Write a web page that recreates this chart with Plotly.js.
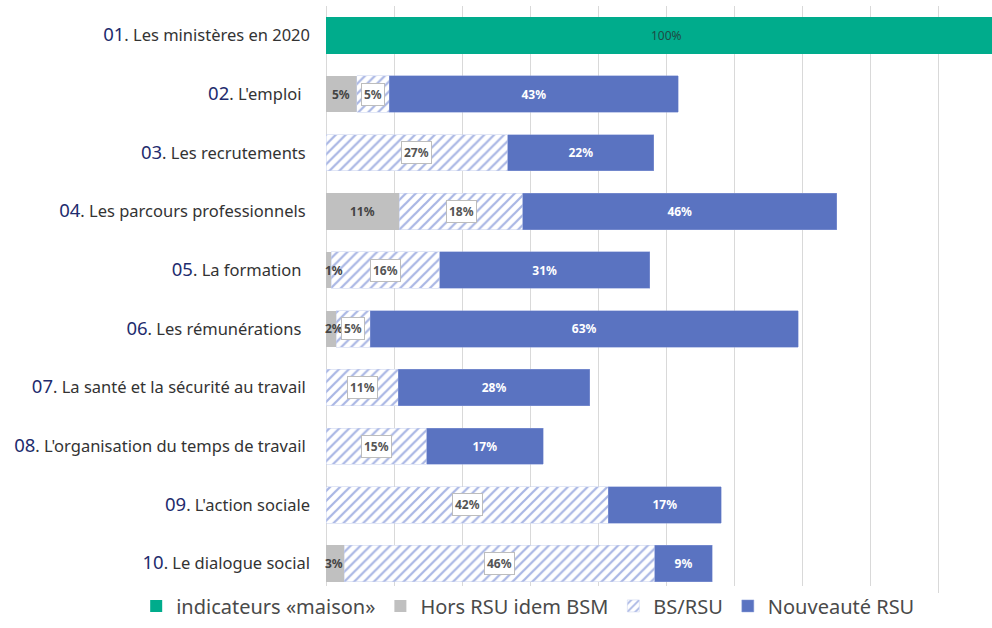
<!DOCTYPE html>
<html>
<head>
<meta charset="utf-8">
<script src="https://cdn.plot.ly/plotly-3.0.1.min.js"></script>
<style>html,body{margin:0;padding:0;background:#fff;}#chart{width:992px;height:628px;}</style>
</head>
<body>
<div id="chart"></div>
<script>
// Category numbers and names
const catNums = ['01','02','03','04','05','06','07','08','09','10'];
const catNames = ['Les ministères en 2020', "L'emploi\u00a0\u00a0", 'Les recrutements\u00a0', 'Les parcours professionnels\u00a0', 'La formation\u00a0\u00a0', 'Les rémunérations\u00a0\u00a0', 'La santé et la sécurité au travail\u00a0', "L'organisation du temps de travail\u00a0", "L'action sociale", 'Le dialogue social'];

// Series values (%)
const maison    = [100, null, null, null, null, null, null, null, null, null];
const horsRSU   = [null, 4.5, null, 10.8, 0.8, 1.5, null, null, null, 2.7];
const bsRSU     = [null, 4.8, 26.7, 18.1, 15.9, 5.0, 10.6, 14.8, 41.5, 45.6];
const nouveaute = [null, 42.5, 21.5, 46.2, 30.9, 62.9, 28.2, 17.1, 16.6, 8.5];

// Data labels as printed
const maisonLbl = ['100%', '', '', '', '', '', '', '', '', ''];
const horsLbl   = ['', '5%', '', '11%', '1%', '2%', '', '', '', '3%'];
const bsLbl     = ['', '5%', '27%', '18%', '16%', '5%', '11%', '15%', '42%', '46%'];
const nouvLbl   = ['', '43%', '22%', '46%', '31%', '63%', '28%', '17%', '17%', '9%'];

const seriesNames = ['indicateurs «maison»', 'Hors RSU idem BSM', 'BS/RSU', 'Nouveauté RSU'];

const FONT = 'Noto Sans, Lato, sans-serif';
const cats = catNums.map((n, i) => "<span style='color:#1e2c6e;font-size:18.5px'>" + n + '</span>. ' + catNames[i]);

const traces = [
  {
    type: 'bar', orientation: 'h', name: seriesNames[0], y: cats, x: maison,
    marker: {color: '#00ac8c'}, hoverinfo: 'skip'
  },
  {
    type: 'bar', orientation: 'h', name: seriesNames[1], y: cats, x: horsRSU,
    marker: {color: '#c0c0c0'}, hoverinfo: 'skip'
  },
  {
    type: 'bar', orientation: 'h', name: seriesNames[2], y: cats, x: bsRSU,
    marker: {color: '#ffffff', line: {color: '#c6cfee', width: 0.5},
      pattern: {shape: '/', fgcolor: '#a9b6e4', bgcolor: '#ffffff', size: 7, solidity: 0.32}},
    hoverinfo: 'skip'
  },
  {
    type: 'bar', orientation: 'h', name: seriesNames[3], y: cats, x: nouveaute,
    marker: {color: '#5a73c1', line: {color: '#8a9cd8', width: 0.5}},
    text: nouvLbl, textposition: 'inside', insidetextanchor: 'middle', textangle: 0,
    textfont: {family: FONT, size: 12, color: '#ffffff', weight: 'bold'}, hoverinfo: 'skip'
  }
];

// Data labels placed from the data values
const annotations = [];
cats.forEach((c, i) => {
  if (maison[i] != null) {
    annotations.push({
      x: maison[i] / 2, y: c, xref: 'x', yref: 'y', text: maisonLbl[i], showarrow: false,
      font: {family: FONT, size: 12, color: '#1f4a44'}
    });
  }
  if (horsRSU[i] != null) {
    const small = horsRSU[i] < 4;
    annotations.push({
      x: small ? 0 : horsRSU[i] / 2, xanchor: small ? 'left' : 'center', y: c, xref: 'x', yref: 'y',
      text: horsLbl[i], showarrow: false, borderpad: 0, xshift: small ? -2 : 0,
      font: {family: FONT, size: 12, color: '#444', weight: 'bold'}
    });
  }
  if (bsRSU[i] != null) {
    const start = horsRSU[i] || 0;
    annotations.push({
      x: start + bsRSU[i] / 2, y: c, xref: 'x', yref: 'y', text: bsLbl[i], showarrow: false,
      font: {family: FONT, size: 12, color: '#555', weight: 'bold'},
      bgcolor: '#ffffff', bordercolor: '#bdbdbd', borderwidth: 1, borderpad: 2
    });
  }
});

const layout = {
  width: 992, height: 628,
  margin: {l: 326, r: 0, t: 6, b: 35},
  paper_bgcolor: '#ffffff', plot_bgcolor: '#ffffff',
  barmode: 'stack', bargap: 0.38,
  font: {family: FONT, color: '#333'},
  xaxis: {range: [0, 97.9], dtick: 10, tick0: 0, showticklabels: false, showgrid: true,
    gridcolor: '#d9d9d9', gridwidth: 1, zeroline: true, zerolinecolor: '#d9d9d9', ticks: '', fixedrange: true},
  yaxis: {type: 'category', autorange: 'reversed', ticks: '', ticklabelstandoff: 15,
    tickfont: {family: FONT, size: 16.5, color: '#333'}, showgrid: false, zeroline: false, fixedrange: true},
  showlegend: true,
  legend: {orientation: 'h', x: -0.285, xanchor: 'left', y: -0.022, yanchor: 'middle',
    font: {family: FONT, size: 20, color: '#4a4a4a'}, itemwidth: 30, traceorder: 'normal'},
  annotations: annotations
};

Plotly.newPlot('chart', traces, layout, {displayModeBar: false, staticPlot: true});
</script>
</body>
</html>
